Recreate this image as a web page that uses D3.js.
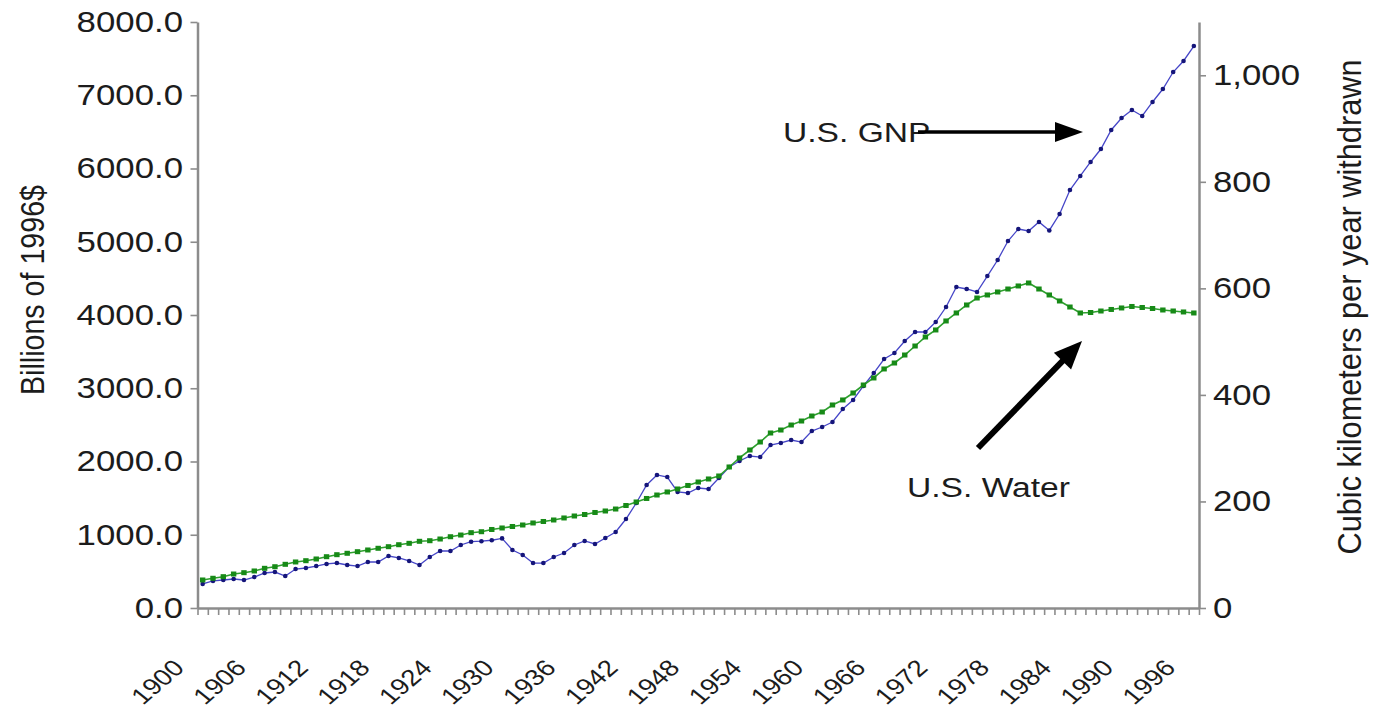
<!DOCTYPE html>
<html><head><meta charset="utf-8">
<script src="https://cdn.jsdelivr.net/npm/d3@7"></script>
<style>
body{margin:0;background:#fff;}
text{font-family:"Liberation Sans", Arial, sans-serif; fill:#1c1c1c;}
</style></head>
<body><svg id="c" width="1375" height="708"></svg>
<script>
const years = [1900,1901,1902,1903,1904,1905,1906,1907,1908,1909,
  1910,1911,1912,1913,1914,1915,1916,1917,1918,1919,
  1920,1921,1922,1923,1924,1925,1926,1927,1928,1929,
  1930,1931,1932,1933,1934,1935,1936,1937,1938,1939,
  1940,1941,1942,1943,1944,1945,1946,1947,1948,1949,
  1950,1951,1952,1953,1954,1955,1956,1957,1958,1959,
  1960,1961,1962,1963,1964,1965,1966,1967,1968,1969,
  1970,1971,1972,1973,1974,1975,1976,1977,1978,1979,
  1980,1981,1982,1983,1984,1985,1986,1987,1988,1989,
  1990,1991,1992,1993,1994,1995,1996];
// U.S. GNP, billions of 1996 $
const gnp = [328,369,382,396,382,423,478,491,437,532,
  546,573,601,614,587,573,628,628,710,683,
  642,587,696,778,778,860,905,912,925,950,
  792,724,614,614,696,751,860,915,874,956,
  1038,1215,1433,1679,1816,1788,1584,1570,1638,1625,
  1775,1925,2007,2075,2061,2225,2253,2293,2266,2416,
  2471,2539,2717,2840,3031,3208,3399,3481,3645,3768,
  3768,3904,4109,4382,4355,4314,4532,4751,5010,5174,
  5147,5270,5154,5379,5706,5898,6089,6266,6526,6689,
  6799,6717,6908,7085,7317,7468,7672];
// U.S. water withdrawn, cubic km per year
const water = [52.6,55.8,58.8,63.8,66.3,69.5,74.5,77.5,82.0,86.4,
  88.8,92.0,96.3,100.1,102.7,105.7,108.9,112.1,115.1,118.8,
  121.4,125.2,126.3,129.5,133.8,137.0,141.4,143.2,147.4,150.2,
  153.0,155.8,159.6,162.4,165.2,169.0,172.7,175.5,179.3,182.1,
  185.8,192.4,199.0,205.6,212.1,217.8,223.4,230.0,236.5,242.2,
  247.8,264.7,281.6,296.6,311.6,328.5,334.1,343.5,351.0,360.4,
  367.9,381.1,390.5,403.6,418.6,431.8,448.7,459.9,474.9,491.8,
  508.7,521.9,538.8,553.8,568.8,581.9,587.6,593.2,598.8,604.5,
  610.1,598.8,587.6,576.3,565.0,553.8,554.7,557.5,560.4,563.2,
  566.0,564.1,562.2,559.4,557.5,555.7,553.8];
const xTickLabels = ["1900","1906","1912","1918","1924","1930","1936","1942","1948","1954","1960","1966","1972","1978","1984","1990","1996"];
const leftTicks = [0,1000,2000,3000,4000,5000,6000,7000,8000];
const rightTicks = [0,200,400,600,800,1000];
const leftTitle = "Billions of 1996$";
const rightTitle = "Cubic kilometers per year withdrawn";
const gnpLabel = "U.S. GNP";
const waterLabel = "U.S. Water";

const SX = 1.2; // horizontal stretch of the text in the reference
const L = 197.5, R = 1199, T = 22, B = 608;
const svg = d3.select("#c");

const x = d3.scaleBand().domain(years).range([L, R]);
const cx = d => x(d) + x.bandwidth() / 2;
const xi = d3.scaleLinear().domain([0, years.length]).range([L, R]);
const yL = d3.scaleLinear().domain([0, 8000]).range([B, T]);
const yR = d3.scaleLinear().domain([0, 1100]).range([B, T]);

const axisColor = "#8c8c8c";
function styleAxis(g) {
  g.select(".domain").attr("stroke", axisColor).attr("stroke-width", 2.5);
  g.selectAll(".tick line").attr("stroke", axisColor).attr("stroke-width", 1.6);
}

// x axis (category boundary ticks)
const gx = svg.append("g").attr("transform", `translate(0,${B})`)
  .call(d3.axisBottom(xi).tickValues(d3.range(0, years.length + 1)).tickSize(7).tickSizeOuter(0).tickFormat(""));
styleAxis(gx);

// left axis
const gl = svg.append("g").attr("transform", `translate(${L},0)`)
  .call(d3.axisLeft(yL).tickValues(leftTicks).tickSize(7).tickSizeOuter(0).tickFormat(d3.format(".1f")));
styleAxis(gl);
gl.selectAll(".tick text").attr("font-size", 29).attr("fill", "#1c1c1c")
  .attr("x", -14.5 / SX).attr("transform", `scale(${SX},1)`).style("font-family", '"Liberation Sans", Arial, sans-serif');

// right axis
const gr = svg.append("g").attr("transform", `translate(${R},0)`)
  .call(d3.axisRight(yR).tickValues(rightTicks).tickSize(7).tickSizeOuter(0).tickFormat(d3.format(",")));
styleAxis(gr);
gr.selectAll(".tick text").attr("font-size", 29).attr("fill", "#1c1c1c")
  .attr("x", 14 / SX).attr("transform", `scale(${SX},1)`).style("font-family", '"Liberation Sans", Arial, sans-serif');

// x tick labels
svg.append("g").selectAll("text").data(xTickLabels).join("text")
  .attr("transform", d => `translate(${cx(+d) - 17},${B + 61}) scale(${SX},1) rotate(-46)`)
  .attr("text-anchor", "end").attr("font-size", 23).text(d => d);

// axis titles
svg.append("text").attr("transform", `translate(44,290) rotate(-90) scale(1,${SX})`)
  .attr("text-anchor", "middle").attr("font-size", 27)
  .attr("textLength", 210).attr("lengthAdjust", "spacingAndGlyphs").text(leftTitle);
svg.append("text").attr("transform", `translate(1361,307) rotate(-90) scale(1,${SX})`)
  .attr("text-anchor", "middle").attr("font-size", 27)
  .attr("textLength", 495).attr("lengthAdjust", "spacingAndGlyphs").text(rightTitle);

// GNP series
svg.append("path").datum(gnp)
  .attr("d", d3.line().x((d, i) => cx(years[i])).y(d => yL(d)))
  .attr("fill", "none").attr("stroke", "#4646c8").attr("stroke-width", 1.3);
svg.append("g").selectAll("circle").data(gnp).join("circle")
  .attr("cx", (d, i) => cx(years[i])).attr("cy", d => yL(d)).attr("r", 2.3)
  .attr("fill", "#15157a");

// Water series
svg.append("path").datum(water)
  .attr("d", d3.line().x((d, i) => cx(years[i])).y(d => yR(d)))
  .attr("fill", "none").attr("stroke", "#2ea02e").attr("stroke-width", 1.6);
svg.append("g").selectAll("rect").data(water).join("rect")
  .attr("x", (d, i) => cx(years[i]) - 2.7).attr("y", d => yR(d) - 2.5)
  .attr("width", 5.4).attr("height", 5).attr("fill", "#178a17");

// annotations
svg.append("text").attr("transform", `translate(783,142) scale(${SX},1)`)
  .attr("font-size", 28).text(gnpLabel);
svg.append("text").attr("transform", `translate(907,497) scale(${SX},1)`)
  .attr("font-size", 28).text(waterLabel);

function arrow(x1, y1, x2, y2, w, headLen, headHalf) {
  const dx = x2 - x1, dy = y2 - y1, len = Math.hypot(dx, dy);
  const ux = dx / len, uy = dy / len, px = -uy, py = ux;
  const bx = x2 - ux * headLen, by = y2 - uy * headLen;
  svg.append("line").attr("x1", x1).attr("y1", y1).attr("x2", bx + ux * 2).attr("y2", by + uy * 2)
    .attr("stroke", "#000").attr("stroke-width", w);
  svg.append("polygon")
    .attr("points", [[x2, y2], [bx + px * headHalf, by + py * headHalf], [bx - px * headHalf, by - py * headHalf]].map(p => p.join(",")).join(" "))
    .attr("fill", "#000");
}
arrow(918, 132, 1083, 132, 3.5, 28, 10);
arrow(978, 448, 1082, 341, 6, 28, 12);
</script>
</body></html>
